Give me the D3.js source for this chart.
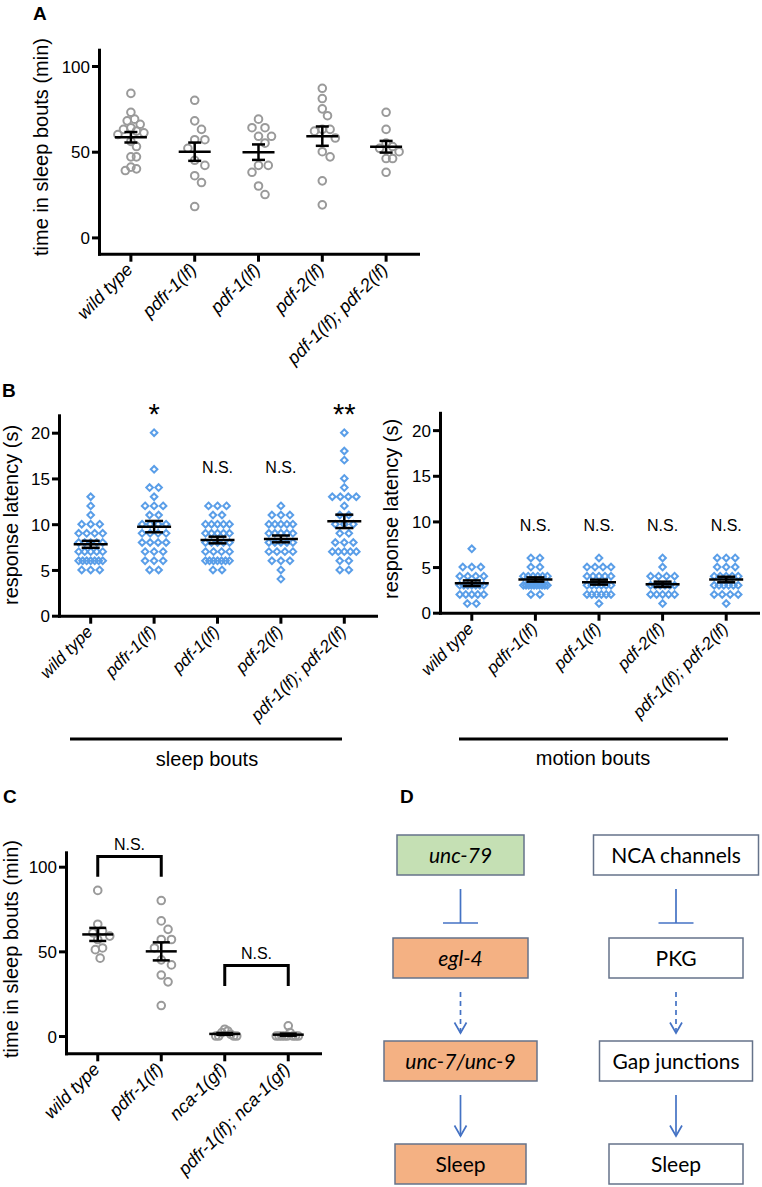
<!DOCTYPE html>
<html><head><meta charset="utf-8">
<script src="https://cdn.jsdelivr.net/npm/d3@7"></script>
<style>body{margin:0;background:#fff} svg{display:block}</style>
</head><body>
<svg id="fig" width="762" height="1187"></svg>
<script>
// ---------------- DATA ----------------
const groupsA = ["wild type","pdfr-1(lf)","pdf-1(lf)","pdf-2(lf)","pdf-1(lf); pdf-2(lf)"];
const timeA_wildType = [84,73,69,68,66,64,63,62,61,60,56,53,47,47,41,40,39];
const timeA_pdfr1    = [80,68,63,57,57,52,45,42,36,32,18];
const timeA_pdf1     = [69,64,64,59,59,55,42,42,38,30,25];
const timeA_pdf2     = [87,81,75,71,63,63,62,58,50,47,33,19];
const timeA_pdf1pdf2 = [73,63,55,53,52,50,46,46,38];
const yTicksA = [0,50,100];

const latSleep_wildType = [13,12,11,10,10,10,9,9,9,9,8,8,8,8,8,7,7,7,7,7,6,6,6,6,6,6,6,5,5,5];
const latSleep_pdfr1    = [20,16,14,14,13,12,12,12,11,11,10,10,10,10,9,9,9,9,8,8,8,8,7,7,7,6,6,6,5,5];
const latSleep_pdf1     = [12,12,12,11,11,10,10,10,10,10,9,9,9,9,9,8,8,8,8,8,7,7,7,7,6,6,6,6,6,6,6,5,5];
const latSleep_pdf2     = [12,11,11,11,10,10,10,10,10,9,9,9,9,9,8,8,8,8,8,7,7,7,7,6,6,6,5,4];
const latSleep_pdf1pdf2 = [20,18,17,15,14,13,13,13,13,12,11,11,10,10,10,9,9,8,8,8,7,7,7,7,7,6,6,5,5];
const sigSleep = ["", "*", "N.S.", "N.S.", "**"];

const latMotion_wildType = [7,5,5,5,4,4,4,4,3,3,3,3,3,3,3,2,2,2,2,2,1,1];
const latMotion_pdfr1    = [6,6,5,5,4,4,4,4,4,4,3,3,3,3,3,3,3,3,3,3,2,2];
const latMotion_pdf1     = [6,5,5,5,5,4,4,4,4,4,3,3,3,3,3,3,2,2,2,2,2,2,1];
const latMotion_pdf2     = [6,5,4,4,4,4,3,3,3,3,3,3,2,2,2,2,2,1];
const latMotion_pdf1pdf2 = [6,6,6,5,5,5,4,4,4,4,4,3,3,3,3,3,3,2,2,2,2,1];
const sigMotion = ["", "N.S.", "N.S.", "N.S.", "N.S."];
const yTicksB = [0,5,10,15,20];

const groupsC = ["wild type","pdfr-1(lf)","nca-1(gf)","pdfr-1(lf); nca-1(gf)"];
const timeC_wildType  = [86,66,62,61,59,57,52,51,46];
const timeC_pdfr1     = [80,68,63,57,57,52,45,42,36,32,18];
const timeC_nca1      = [4,3,2,1,0,0,0,0];
const timeC_pdfr1nca1 = [6,2,0,0,0,0,0,0,0,0];
const comparisonsC = [[0,1,"N.S."],[2,3,"N.S."]];

const pathwayLeft  = ["unc-79","egl-4","unc-7/unc-9","Sleep"];
const pathwayRight = ["NCA channels","PKG","Gap junctions","Sleep"];
const pathwayLinks = ["inhibit","dashed","solid"];
const pathwayLeftItalic = [true,true,true,false];

// ---------------- DRAWING ----------------
const svg = d3.select("#fig");
const FONT = '"Liberation Sans", Arial, sans-serif';

function swarm(vals, y, minDist, step, maxHalf) {
  const pts = vals.map(v => ({v, y: y(v), dx: 0}));
  const order = pts.slice().sort((a,b)=>a.y-b.y);
  const placed = [];
  order.forEach(p => {
    for (let k=0; k<400; k++) {
      const off = k===0 ? 0 : (k%2 ? 1 : -1) * Math.ceil(k/2) * step;
      if (placed.every(q => Math.hypot(q.dx-off, q.y-p.y) >= minDist)) { p.dx = off; break; }
    }
    placed.push(p);
  });
  const ext = d3.max(pts, p=>Math.abs(p.dx)) || 0;
  if (ext > maxHalf) pts.forEach(p => p.dx *= maxHalf/ext);
  return pts;
}
function rows(vals, y, spacing, maxHalf) {
  const pts = [];
  d3.groups(vals, v=>v).forEach(([v, arr]) => {
    const n = arr.length;
    const s = n>1 ? Math.min(spacing, 2*maxHalf/(n-1)) : 0;
    arr.forEach((_, i) => pts.push({v, y: y(v), dx: (i-(n-1)/2)*s}));
  });
  return pts;
}

function scatterPanel(o) {
  const x = d3.scaleBand().domain(o.groups).range(o.xRange).padding(0);
  const y = d3.scaleLinear().domain(o.yDomain).range(o.yRange);
  const g = svg.append("g");
  const yAx = g.append("g").attr("transform",`translate(${o.xRange[0]},0)`)
    .call(d3.axisLeft(y).tickValues(o.yTicks).tickSize(7).tickPadding(2).tickSizeOuter(0).tickFormat(d3.format("d")));
  const xAx = g.append("g").attr("transform",`translate(0,${y(o.yDomain[0])})`)
    .call(d3.axisBottom(x).tickSize(8).tickSizeOuter(0));
  [yAx, xAx].forEach(a => {
    a.select(".domain").attr("stroke","#000").attr("stroke-width",3).attr("stroke-linecap","square");
    a.selectAll(".tick line").attr("stroke","#000").attr("stroke-width",3);
    a.selectAll("text").attr("font-family",FONT).attr("fill","#000");
  });
  yAx.selectAll("text").attr("font-size",17).attr("dy","0.36em");
  xAx.selectAll("text").attr("font-size",o.xFont).attr("font-style","italic")
    .attr("text-anchor","end").attr("x",0).attr("y",0).attr("dy",null)
    .attr("transform",`translate(${o.lx},${o.ly}) rotate(-45)`);
  g.append("text").attr("transform",`translate(${o.ylx},${o.yly}) rotate(-90)`)
    .attr("text-anchor","middle").attr("font-family",FONT).attr("font-size",20).text(o.ylabel);

  const cx = i => x(o.groups[i]) + x.bandwidth()/2;
  o.series.forEach((vals, i) => {
    const pts = o.shape === "circle" ? swarm(vals, y, o.minDist, o.step, o.maxHalf)
                                     : rows(vals, y, o.spacing, o.maxHalf);
    const pg = g.append("g");
    if (o.shape === "circle") {
      pg.selectAll("circle").data(pts).join("circle")
        .attr("cx", p => cx(i)+p.dx).attr("cy", p => p.y).attr("r", 3.8)
        .attr("fill","none").attr("stroke", o.color).attr("stroke-width", 2);
    } else {
      const sym = d3.symbol(d3.symbolDiamond2, 28);
      pg.selectAll("path").data(pts).join("path")
        .attr("d", sym).attr("transform", p => `translate(${cx(i)+p.dx},${p.y})`)
        .attr("fill","none").attr("stroke", o.color).attr("stroke-width", 2);
    }
  });
  o.series.forEach((vals, i) => {
    const m = d3.mean(vals), sem = d3.deviation(vals)/Math.sqrt(vals.length);
    const c = cx(i);
    const eg = g.append("g").attr("stroke","#000").attr("stroke-width",2.5);
    eg.append("line").attr("x1",c-o.meanHalf).attr("x2",c+o.meanHalf).attr("y1",y(m)).attr("y2",y(m));
    eg.append("line").attr("x1",c).attr("x2",c).attr("y1",y(m-sem)).attr("y2",y(m+sem));
    [m-sem, m+sem].forEach(v => eg.append("line").attr("x1",c-o.capHalf).attr("x2",c+o.capHalf).attr("y1",y(v)).attr("y2",y(v)));
  });
  if (o.sig) {
    o.sig.forEach((s, i) => {
      if (!s) return;
      const star = s.startsWith("*");
      g.append("text").attr("x", cx(i)).attr("y", star ? o.starY : o.sigY)
        .attr("text-anchor","middle").attr("font-family",FONT)
        .attr("font-size", star ? 29 : 16).text(s);
    });
  }
  return {x, y, cx, g};
}

function letter(t, x, y) {
  svg.append("text").attr("x",x).attr("y",y).attr("font-family",FONT)
    .attr("font-weight","bold").attr("font-size",19).text(t);
}

// Panel A
letter("A", 33, 20);
scatterPanel({groups: groupsA, series: [timeA_wildType,timeA_pdfr1,timeA_pdf1,timeA_pdf2,timeA_pdf1pdf2],
  xRange:[99,418], yDomain:[-9.5,109.5], yRange:[253.7,49.7], yTicks:yTicksA,
  shape:"circle", color:"#9a9a9a", minDist:9.5, step:3.4, maxHalf:13,
  meanHalf:16, capHalf:6.5, xFont:18, lx:3, ly:17,
  ylabel:"time in sleep bouts (min)", ylx:48, yly:147});

// Panel B
letter("B", 2, 397);
scatterPanel({groups: groupsA, series: [latSleep_wildType,latSleep_pdfr1,latSleep_pdf1,latSleep_pdf2,latSleep_pdf1pdf2],
  xRange:[59,376], yDomain:[0,21.9], yRange:[615.7,415.3], yTicks:yTicksB,
  shape:"diamond", color:"#5a9ee8", spacing:9, maxHalf:12,
  meanHalf:17, capHalf:9, xFont:17, lx:3, ly:17,
  sig: sigSleep, sigY:473, starY:424,
  ylabel:"response latency (s)", ylx:18, yly:515});
scatterPanel({groups: groupsA, series: [latMotion_wildType,latMotion_pdfr1,latMotion_pdf1,latMotion_pdf2,latMotion_pdf1pdf2],
  xRange:[440,758], yDomain:[0,21.9], yRange:[612.7,412.8], yTicks:yTicksB,
  shape:"diamond", color:"#5a9ee8", spacing:9, maxHalf:12,
  meanHalf:17, capHalf:9, xFont:17, lx:3, ly:17,
  sig: sigMotion, sigY:531,
  ylabel:"response latency (s)", ylx:398, yly:509});

// group underlines
[[70,342,739,"sleep bouts",207,766],[459,728,739,"motion bouts",593,765]].forEach(([x1,x2,ly,t,tx,ty]) => {
  svg.append("line").attr("x1",x1).attr("x2",x2).attr("y1",ly).attr("y2",ly).attr("stroke","#000").attr("stroke-width",3);
  svg.append("text").attr("x",tx).attr("y",ty).attr("text-anchor","middle").attr("font-family",FONT).attr("font-size",20).text(t);
});

// Panel C
letter("C", 3, 803);
const pc = scatterPanel({groups: groupsC, series: [timeC_wildType,timeC_pdfr1,timeC_nca1,timeC_pdfr1nca1],
  xRange:[66,320], yDomain:[-10.2,108.5], yRange:[1053.3,852.3], yTicks:yTicksA,
  shape:"circle", color:"#9a9a9a", minDist:9.5, step:3.4, maxHalf:12,
  meanHalf:15.5, capHalf:8.5, xFont:18, lx:3, ly:17,
  ylabel:"time in sleep bouts (min)", ylx:18, yly:949});
const bracketLevels = [[106,94],[41.6,29.5]];
comparisonsC.forEach(([a,b,t], k) => {
  const [top, leg] = bracketLevels[k];
  const x1 = pc.cx(a), x2 = pc.cx(b);
  svg.append("path").attr("d", `M${x1},${pc.y(leg)}V${pc.y(top)}H${x2}V${pc.y(leg)}`)
    .attr("fill","none").attr("stroke","#000").attr("stroke-width",3);
  svg.append("text").attr("x",(x1+x2)/2).attr("y",pc.y(top)-7).attr("text-anchor","middle")
    .attr("font-family",FONT).attr("font-size",16).text(t);
});

// Panel D
letter("D", 400, 803);
const rowY = d3.scalePoint().domain(d3.range(4)).range([855,1164]);
const colX = d3.scalePoint().domain(["left","right"]).range([460.5,676]);
const boxW = {left:[127,135,153,131], right:[165,134,153,134]};
const BOX_H = 40;
const fillLeft = ["#c5e0b4","#f4b183","#f4b183","#f4b183"];
const dg = svg.append("g");
[["left",pathwayLeft],["right",pathwayRight]].forEach(([col, labels]) => {
  labels.forEach((t, i) => {
    const w = boxW[col][i], cxp = colX(col), cyp = rowY(i);
    dg.append("rect").attr("x",cxp-w/2).attr("y",cyp-BOX_H/2).attr("width",w).attr("height",BOX_H)
      .attr("fill", col==="left" ? fillLeft[i] : "#fff").attr("stroke","#66738a").attr("stroke-width",1.5);
    dg.append("text").attr("x",cxp).attr("y",cyp).attr("dy","0.36em").attr("text-anchor","middle")
      .attr("font-family","Lato, 'Open Sans', sans-serif").attr("font-size",21)
      .attr("font-style", col==="left" && pathwayLeftItalic[i] ? "italic" : "normal").text(t);
  });
  pathwayLinks.forEach((type, i) => {
    const xx = colX(col), y0 = rowY(i)+34;
    const y1 = type==="inhibit" ? rowY(i+1)-35 : rowY(i+1)-28;
    const line = dg.append("line").attr("x1",xx).attr("x2",xx).attr("y1",y0).attr("y2",y1)
      .attr("stroke","#4472c4").attr("stroke-width",1.7);
    if (type==="dashed") line.attr("stroke-dasharray","5,4");
    if (type==="inhibit") {
      dg.append("line").attr("x1",xx-17.5).attr("x2",xx+17.5).attr("y1",y1).attr("y2",y1)
        .attr("stroke","#4472c4").attr("stroke-width",1.7);
    } else {
      dg.append("path").attr("d",`M${xx-6},${y1-10.5}L${xx},${y1}L${xx+6},${y1-10.5}`)
        .attr("fill","none").attr("stroke","#4472c4").attr("stroke-width",1.7);
    }
  });
});
</script>
</body></html>
